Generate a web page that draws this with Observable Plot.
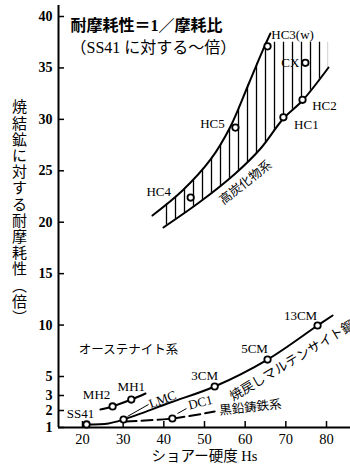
<!DOCTYPE html>
<html><head><meta charset="utf-8">
<script src="https://cdn.jsdelivr.net/npm/d3@7"></script>
<script src="https://cdn.jsdelivr.net/npm/@observablehq/plot@0.6"></script>
<style>body{margin:0;background:#fff}</style>
</head><body><div id="chart"></div>
<script>
// ---- data ----
const xTicks = [20, 30, 40, 50, 60, 70, 80];
const yTicks = [1, 2, 3, 5, 10, 15, 20, 25, 30, 35, 40];

const specimenNames = ["SS41", "MH2", "MH1", "LMC", "DC1", "3CM", "5CM", "13CM", "HC4", "HC5", "HC3(w)", "CX", "HC1", "HC2"];
const specimenHs    = [21.0, 27.4, 32.0, 30.1, 42.1, 52.5, 65.5, 77.8, 46.6, 57.6, 65.5, 74.8, 69.4, 74.1];
const specimenWear  = [1.18, 2.27, 2.73, 1.47, 1.53, 3.95, 6.65, 9.96, 22.4, 29.2, 37.1, 35.5, 30.2, 31.9];

const martensiteHs   = [21.0, 26.4, 30.1, 41.6, 52.5, 65.5, 77.8, 81.5];
const martensiteWear = [1.18, 1.24, 1.47, 2.53, 3.95, 6.65, 9.96, 10.93];
const mhHs   = [24.4, 27.4, 32.0, 35.5];
const mhWear = [2.07, 2.27, 2.73, 3.21];
const graphiteHs   = [30.6, 42.1, 52.5];
const graphiteWear = [1.35, 1.53, 1.94];
const upperHs   = [37.2, 44.6, 51.5, 56.4, 60.8, 64.3, 66.2];
const upperWear = [20.65, 23.08, 26.10, 29.31, 33.39, 36.69, 38.35];
const lowerHs   = [39.9, 49.0, 57.6, 63.8, 69.4, 74.1, 80.5];
const lowerWear = [19.49, 22.01, 24.74, 27.17, 30.08, 31.83, 35.04];
const hatchTop = 37.5;

const titleLine1 = "耐摩耗性＝1／摩耗比";
const titleLine2 = "（SS41 に対する～倍）";
const xLabel = "ショアー硬度 Hs";
const yLabel = "焼結鉱に対する耐摩耗性︵倍︶";

const groupNotes = [
  {text: "オーステナイト系", x: 31.3, y: 7.53},
  {text: "焼戻しマルテンサイト鋼", x: 56.5, y: 2.85},
  {text: "黒鉛鋳鉄系", x: 61.3, y: 2.2},
  {text: "高炭化物系", x: 60.1, y: 23.86}
];
const leaders = [
  {x1: 31.06, y1: 1.65, x2: 36.23, y2: 2.4},
  {x1: 43.36, y1: 1.82, x2: 45.57, y2: 2.13}
];

// ---- layout / style ----
const xDomain = [14.1, 85.9];
const labelOffset = {
  "SS41": [-6, -11, 0], "MH2": [-16, -12, 0], "MH1": [0, -13, 0],
  "LMC": [39, -20, -20], "DC1": [28, -16, -14],
  "3CM": [-10, -11, 0], "5CM": [-13, -11, 0], "13CM": [-17, -10, 0],
  "HC4": [-32, -6, 0], "HC5": [-23, -4, 0], "HC3(w)": [25, -12, 0],
  "CX": [-15, 0, 0], "HC1": [23, 8, 0], "HC2": [22, 6, 0]
};
const noteStyle = [
  {fontSize: 12.5, rotate: 0, textAnchor: "middle"},
  {fontSize: 13, rotate: -31, textAnchor: "start"},
  {fontSize: 12.5, rotate: -6, textAnchor: "middle"},
  {fontSize: 12.5, rotate: -38, textAnchor: "middle"}
];
const serif = "'Liberation Serif','Noto Sans CJK JP',serif";
const cjk = "'Noto Sans CJK JP',sans-serif";

const pairs = (xs, ys) => xs.map((x, i) => ({x, y: ys[i]}));
const pts = specimenNames.map((name, i) => ({name, x: specimenHs[i], y: specimenWear[i]}));
const martensite = pairs(martensiteHs, martensiteWear);
const mh = pairs(mhHs, mhWear);
const graphite = pairs(graphiteHs, graphiteWear);
const upper = pairs(upperHs, upperWear);
const lower = pairs(lowerHs, lowerWear);

const lineOpts = {x: "x", y: "y", stroke: "black", strokeWidth: 2, curve: "catmull-rom"};

const plot = Plot.plot({
  width: 350, height: 466,
  marginLeft: 58, marginRight: 0, marginTop: 5, marginBottom: 39,
  style: {fontFamily: serif, background: "white", color: "black", overflow: "visible"},
  x: {domain: xDomain, label: null},
  y: {type: "linear", domain: [1, 2, 3, 5, 40], range: [427, 410, 395, 376, 16], label: null},
  marks: [
    Plot.areaY(lower, {x: "x", y1: "y", y2: hatchTop, fill: "url(#hatch)", curve: "catmull-rom"}),
    Plot.areaX(upper, {y: "y", x1: 36, x2: "x", fill: "white", curve: "catmull-rom"}),
    Plot.ruleY([1], {stroke: "black", strokeWidth: 2}),
    Plot.ruleX([xDomain[0]], {stroke: "black", strokeWidth: 2}),
    Plot.tickX(xTicks, {x: d => d, insetTop: 416, stroke: "black", strokeWidth: 1.5}),
    Plot.tickY(yTicks, {y: d => d, insetRight: 286, stroke: "black", strokeWidth: 1.5}),
    Plot.axisX(xTicks, {tickSize: 0, tickPadding: 6, fontSize: 14.5, label: null, fontFamily: serif}),
    Plot.axisY(yTicks, {tickSize: 0, tickPadding: 6, fontSize: 14, fontWeight: "bold", label: null, fontFamily: serif}),
    Plot.line(upper, lineOpts),
    Plot.line(lower, lineOpts),
    Plot.line(martensite, lineOpts),
    Plot.line(mh, lineOpts),
    Plot.line(graphite, {...lineOpts, strokeDasharray: "11,5"}),
    Plot.link(leaders, {x1: "x1", y1: "y1", x2: "x2", y2: "y2", stroke: "black", strokeWidth: 1}),
    Plot.dot(pts, {x: "x", y: "y", r: 3.2, fill: "white", stroke: "black", strokeWidth: 1.8}),
    ...pts.map(p => {
      const [dx, dy, rot] = labelOffset[p.name];
      return Plot.text([p], {x: "x", y: "y", text: "name", dx, dy, rotate: rot, fontSize: 13, fontFamily: serif, fill: "black"});
    }),
    ...groupNotes.map((n, i) => Plot.text([n], {x: "x", y: "y", text: "text", fontFamily: cjk, fill: "black", ...noteStyle[i]})),
    Plot.text([titleLine1], {text: d => d, frameAnchor: "top-left", dx: 12, dy: 20, lineAnchor: "middle", fontSize: 16, fontWeight: "bold", fontFamily: serif, fill: "black"}),
    Plot.text([titleLine2], {text: d => d, frameAnchor: "top-left", dx: 12, dy: 42, lineAnchor: "middle", fontSize: 16, fontFamily: serif, fill: "black"}),
    Plot.text([xLabel], {text: d => d, frameAnchor: "bottom", dy: 29, lineAnchor: "middle", fontSize: 14.5, fontFamily: serif, fill: "black"}),
    Plot.text([yLabel.split("").join("\n")], {text: d => d, frameAnchor: "left", dx: -39, dy: -4, textAnchor: "middle", lineAnchor: "middle", lineHeight: 1.08, fontSize: 15, fontFamily: cjk, fill: "black"})
  ]
});

d3.select(plot).insert("defs", ":first-child")
  .html('<pattern id="hatch" patternUnits="userSpaceOnUse" width="9" height="9"><path d="M4.5,0V9" stroke="black" stroke-width="1.3"/></pattern>');

document.getElementById("chart").appendChild(plot);
</script></body></html>
